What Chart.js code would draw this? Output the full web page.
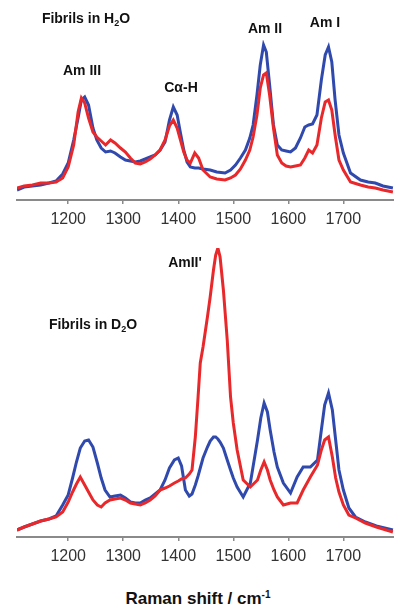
<!DOCTYPE html>
<html>
<head>
<meta charset="utf-8">
<script src="https://cdn.jsdelivr.net/npm/chart.js@4.4.0/dist/chart.umd.min.js"></script>
<style>
  body { margin: 0; background: #fff; }
  #wrap { position: relative; width: 394px; height: 606px; font-family: "Liberation Sans", Arial, sans-serif; }
  canvas { position: absolute; left: 0; }
  .lbl { position: absolute; transform: translate(-50%, -50%); font-weight: bold; font-size: 14px; color: #111; white-space: nowrap; line-height: 1; }
  .lbl sub { font-size: 9px; vertical-align: -3px; }
  .title { font-size: 17px; }
  .title sup { font-size: 10px; vertical-align: 6px; }
</style>
</head>
<body>
<div id="wrap">
  <canvas id="topChart" style="top:0"></canvas>
  <canvas id="bottomChart" style="top:240px"></canvas>

  <div class="lbl" style="left:86px; top:19px">Fibrils in H<sub>2</sub>O</div>
  <div class="lbl" style="left:82px; top:70px">Am III</div>
  <div class="lbl" style="left:181px; top:87px">Cα-H</div>
  <div class="lbl" style="left:265px; top:28px">Am II</div>
  <div class="lbl" style="left:325px; top:22px">Am I</div>
  <div class="lbl" style="left:185px; top:262px">AmII'</div>
  <div class="lbl" style="left:93px; top:325px">Fibrils in D<sub>2</sub>O</div>
  <div class="lbl title" style="left:198px; top:598px">Raman shift / cm<sup>-1</sup></div>
</div>

<script>
// tick labels on the x axis (cm-1)
const xTicks = [1200, 1300, 1400, 1500, 1600, 1700];

// top panel: fibrils in H2O
const topShift = [1107, 1120, 1135, 1150, 1165, 1178, 1190, 1200, 1210, 1218, 1224, 1230, 1237, 1245, 1252, 1260, 1268, 1277, 1285, 1295,
  1304, 1313, 1322, 1331, 1340, 1349, 1358, 1367, 1376, 1384, 1391, 1398, 1404, 1410, 1416, 1422, 1430, 1437, 1445, 1458,
  1470, 1485, 1495, 1504, 1513, 1522, 1530, 1536, 1543, 1549, 1555, 1560, 1566, 1573, 1580, 1588, 1596, 1604, 1613, 1622,
  1630, 1637, 1644, 1652, 1660, 1667, 1673, 1679, 1685, 1692, 1700, 1713, 1731, 1745, 1758, 1772, 1790];
const topBlue = [10, 13, 14, 15, 17, 19, 26, 37, 60, 82, 100, 103, 95, 72, 60, 52, 48, 49, 47, 43,
  40, 39, 38, 39, 41, 43, 45, 50, 58, 80, 93, 85, 67, 50, 38, 33, 32, 32, 31, 30,
  28, 27, 30, 35, 42, 50, 62, 75, 105, 135, 155, 148, 115, 75, 55, 50, 49, 48, 52, 62,
  73, 75, 76, 85, 120, 145, 153, 138, 100, 65, 47, 27, 20, 18, 17, 14, 12];
const topRed = [12, 14, 15, 17, 17, 18, 22, 33, 55, 88, 102, 97, 82, 68, 63, 59, 55, 60, 57, 52,
  48, 42, 37, 36, 38, 41, 45, 50, 60, 74, 80, 72, 60, 48, 40, 37, 47, 42, 30, 23,
  21, 20, 22, 25, 31, 40, 50, 63, 85, 112, 125, 127, 105, 72, 45, 37, 34, 33, 34, 35,
  42, 50, 47, 55, 82, 98, 100, 90, 65, 40, 30, 18, 15, 13, 12, 10, 8];

// bottom panel: fibrils in D2O
const bottomShift = [1107, 1120, 1135, 1150, 1165, 1178, 1190, 1200, 1208, 1215, 1222, 1230, 1237, 1245, 1253, 1260, 1267, 1276, 1285, 1295,
  1304, 1313, 1322, 1331, 1340, 1349, 1358, 1367, 1376, 1384, 1393, 1400, 1406, 1413, 1420, 1425, 1431, 1436, 1440, 1445,
  1453, 1458, 1464, 1468, 1472, 1476, 1482, 1489, 1495, 1500, 1507, 1518, 1531, 1544, 1550, 1556, 1562, 1567, 1574, 1580,
  1591, 1604, 1616, 1627, 1640, 1653, 1660, 1666, 1673, 1680, 1686, 1692, 1700, 1710, 1722, 1740, 1760, 1790];
const bottomBlue = [7, 10, 13, 16, 18, 21, 32, 42, 59, 75, 89, 96, 97, 90, 74, 59, 47, 40, 41, 42,
  39, 35, 34, 34, 37, 39, 43, 47, 57, 69, 77, 79, 71, 47, 41, 43, 52, 61, 69, 79,
  90, 96, 100, 100, 98, 95, 89, 77, 67, 59, 50, 40, 54, 97, 119, 134, 125, 107, 85, 70,
  54, 44, 60, 70, 70, 77, 107, 132, 144, 127, 97, 67, 47, 29, 20, 15, 11, 7];
const bottomRed = [7, 10, 13, 16, 18, 20, 25, 35, 45, 53, 60, 52, 45, 37, 32, 30, 34, 37, 38, 39,
  37, 34, 33, 32, 34, 37, 41, 47, 49, 51, 54, 56, 58, 59, 63, 67, 100, 140, 174, 190,
  220, 240, 267, 282, 289, 280, 247, 197, 140, 114, 87, 57, 50, 57, 67, 75, 67, 57, 47, 40,
  32, 34, 34, 47, 60, 72, 87, 97, 100, 80, 59, 45, 32, 22, 19, 14, 10, 5];

const BLUE = '#2f49ad';
const RED = '#e8282a';

function toPoints(xs, ys) {
  return xs.map((x, i) => ({ x: x, y: ys[i] }));
}

function makeChart(id, height, shifts, blue, red, yMax, padTop) {
  const canvas = document.getElementById(id);
  canvas.width = 394;
  canvas.height = height;
  canvas.style.width = '394px';
  canvas.style.height = height + 'px';

  return new Chart(canvas.getContext('2d'), {
    type: 'line',
    data: {
      datasets: [
        // red first so it sits on top of the blue trace
        { data: toPoints(shifts, red), borderColor: RED, borderWidth: 3, pointRadius: 0, tension: 0, fill: false },
        { data: toPoints(shifts, blue), borderColor: BLUE, borderWidth: 3, pointRadius: 0, tension: 0, fill: false }
      ]
    },
    options: {
      responsive: false,
      animation: false,
      events: [],
      layout: { padding: { left: 17, right: 0, top: padTop, bottom: 0 } },
      plugins: { legend: { display: false }, tooltip: { enabled: false } },
      scales: {
        x: {
          type: 'linear',
          min: 1107,
          max: 1792,
          afterBuildTicks: s => { s.ticks = xTicks.map(v => ({ value: v })); },
          afterFit: s => { s.height = 30; },
          grid: { drawOnChartArea: false, drawTicks: true, tickLength: 4, color: '#8a8a8a', lineWidth: 1.5 },
          border: { color: '#8a8a8a', width: 2 },
          ticks: {
            color: '#333',
            padding: 6,
            maxRotation: 0,
            callback: v => String(v),
            font: { family: '"Liberation Sans", Arial, sans-serif', size: 16 }
          }
        },
        y: { display: false, min: 0, max: yMax }
      }
    }
  });
}

makeChart('topChart', 230, topShift, topBlue, topRed, 160, 40);
makeChart('bottomChart', 327, bottomShift, bottomBlue, bottomRed, 289, 8);
</script>
</body>
</html>
